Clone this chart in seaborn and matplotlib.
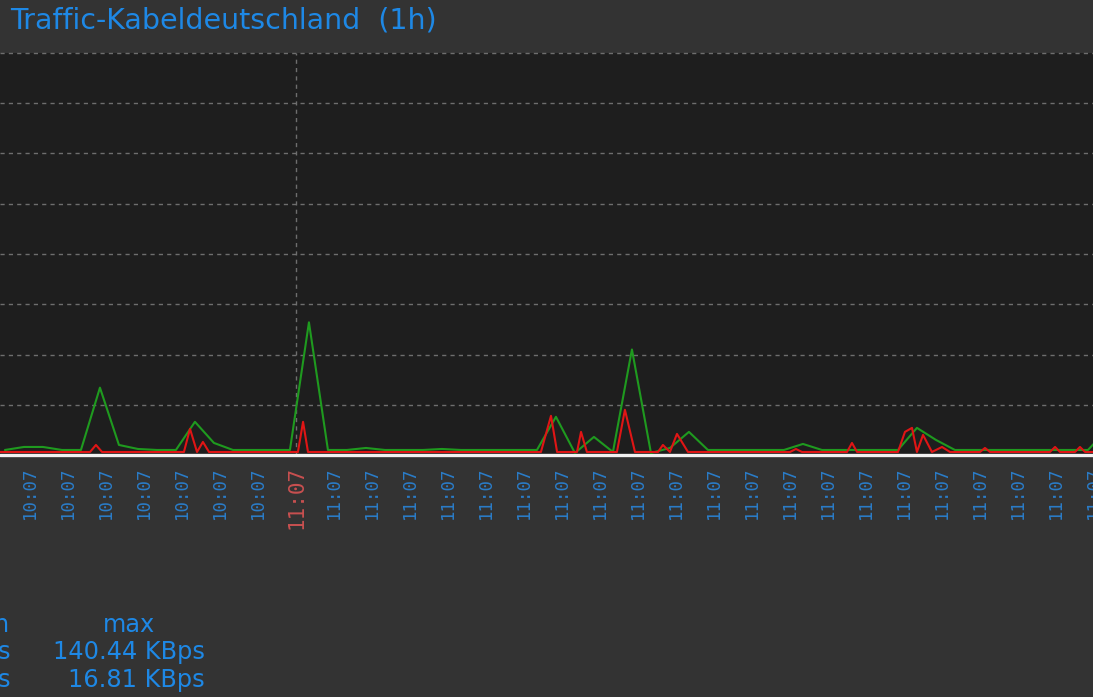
import matplotlib
matplotlib.use("Agg")
import matplotlib.pyplot as plt
import seaborn as sns
import pandas as pd

# ---------------- data ----------------
# green series: sampled once per minute (minutes from left edge of view)
green_t = [0.26 + k for k in range(59)]
green_v = [5, 8, 8, 5, 5, 67, 10, 6, 5, 5,
           33, 12, 5, 5, 5, 5, 132, 5, 5, 7,
           5, 5, 5, 6, 5, 5, 5, 5, 5, 38,
           2, 18, 3, 105, 2, 7, 23, 5, 5, 5,
           5, 5, 11, 5, 5, 5, 5, 5, 27, 15,
           5, 5, 5, 5, 5, 5, 5, 5, 25]

# red series: finer samples (minutes, KBps)
red_t = [0.0, 4.74, 5.05, 5.37, 9.68, 10.0, 10.37, 10.68, 11.0, 15.68,
         15.95, 16.21, 28.47, 29.0, 29.32, 30.37, 30.58, 30.89, 32.47, 32.89,
         33.42, 34.63, 34.89, 35.26, 35.63, 36.21, 41.58, 41.89, 42.21, 44.58,
         44.84, 45.11, 47.26, 47.63, 48.0, 48.26, 48.58, 49.05, 49.58, 50.0,
         51.58, 51.84, 52.11, 55.26, 55.53, 55.79, 56.58, 56.84, 57.11, 57.6]
red_v = [3, 3, 10, 3, 3, 26, 3, 13, 3, 3,
         33, 3, 3, 39, 3, 3, 23, 3, 3, 45,
         3, 3, 10, 3, 21, 3, 3, 6, 3, 3,
         12, 3, 3, 23, 27, 3, 20, 3, 8, 3,
         3, 7, 3, 3, 8, 3, 3, 8, 3, 3]

tick_pos = [1.58 + 2 * k for k in range(29)]
tick_labels = ["10:07"] * 7 + ["11:07"] * 22
marker_pos = 15.58          # position of the hour marker (11:07)
grid_vals = [50, 100, 150, 200, 250, 300, 350, 400]

title = "Traffic-Kabeldeutschland  (1h)"
legend_head = ["n", "max"]
legend_rows = [["s", "140.44 KBps"], ["s", "16.81 KBps"]]

# ---------------- style ----------------
sns.set_style("dark")
plt.rcParams["font.family"] = ["DejaVu Sans"]

W, H = 1093, 697
fig = plt.figure(figsize=(W / 100, H / 100), dpi=100, facecolor="#333333")
ax = fig.add_axes([0, 1 - 455 / H, 1.05, (455 - 53) / H])
ax.set_facecolor("#1e1e1e")

gdf = pd.DataFrame({"t": green_t, "v": green_v})
rdf = pd.DataFrame({"t": red_t, "v": red_v})

ax.set_xlim(0, 1.05 * W / 19)
ax.set_ylim(0, 400)

ax.set_yticks(grid_vals)
ax.tick_params(axis="y", length=0, labelleft=False)
ax.grid(False)
for gv in grid_vals:
    ax.axhline(gv, color="#6e6e6e", lw=1.0, ls=(0, (3, 3)), zorder=1, clip_on=False)
ax.axvline(marker_pos, color="#6e6e6e", lw=1.0, ls=(0, (3, 3)), zorder=1)

ax.axhline(0, color="#f2f2f2", lw=2.4, zorder=2, clip_on=False)

sns.lineplot(data=gdf, x="t", y="v", color="#1f9a1f", lw=1.5, ax=ax,
             estimator=None, sort=False, zorder=3)
sns.lineplot(data=rdf, x="t", y="v", color="#e01515", lw=1.5, ax=ax,
             estimator=None, sort=False, zorder=4)

ax.set_xlabel("")
ax.set_ylabel("")
for s in ax.spines.values():
    s.set_visible(False)

ax.set_xticks(tick_pos)
ax.set_xticklabels(tick_labels, rotation=90, family="DejaVu Sans Mono",
                   fontsize=12.5, color="#2a7cc8", va="top")
ax.tick_params(axis="x", length=0, pad=8)
labs = ax.get_xticklabels()
labs[7].set_color("#c85050")
labs[7].set_fontsize(15)

# title
fig.text(10 / W, 1 - 20 / H, title, fontsize=20.5, color="#1e88e5",
         ha="left", va="center")

# legend table (cropped at the left edge, as in the view)
blue = "#1e88e5"
fs = 17.3
fig.text(9 / W, 1 - 625 / H, legend_head[0], fontsize=fs, color=blue, ha="right", va="center")
fig.text(129 / W, 1 - 625 / H, legend_head[1], fontsize=fs, color=blue, ha="center", va="center")
for i, (a, b) in enumerate(legend_rows):
    y = 1 - (652 + 28 * i) / H
    fig.text(10 / W, y, a, fontsize=fs, color=blue, ha="right", va="center")
    fig.text(205 / W, y, b, fontsize=fs, color=blue, ha="right", va="center")

fig.savefig("out.png", dpi=100, facecolor=fig.get_facecolor())
